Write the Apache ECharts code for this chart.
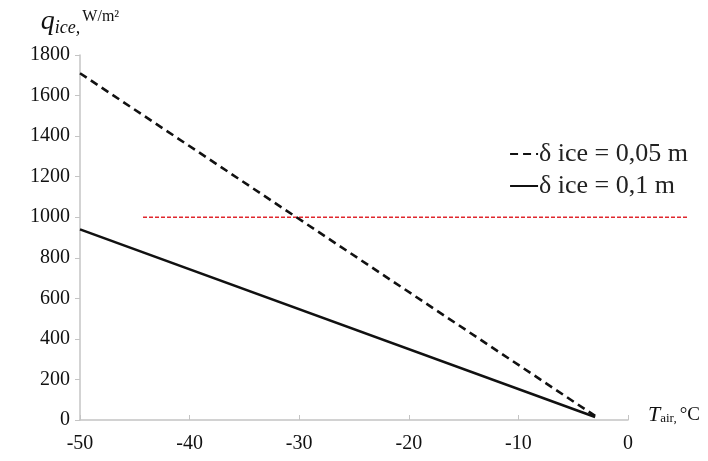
<!DOCTYPE html>
<html><head><meta charset="utf-8">
<script src="https://cdn.jsdelivr.net/npm/echarts@6/dist/echarts.min.js"></script>
<style>html,body{margin:0;padding:0;background:#fff}#c{width:708px;height:461px}</style>
</head><body><div id="c"></div>
<script>
var seriesNames = ['δ ice = 0,05 m', 'δ ice = 0,1 m'];
var thin05 = [[-50, 1710], [-3, 20]];
var thin10 = [[-50, 940], [-3, 15]];
var limitLine = [[-44.25, 1000], [5.5, 1000]];
var xTicks = [-50, -40, -30, -20, -10, 0];
var yTicks = [0, 200, 400, 600, 800, 1000, 1200, 1400, 1600, 1800];

var serif = '"Liberation Serif", "DejaVu Serif", serif';
var W = 708, L = 80, R = 80;
var plotW = W - L - R;
var extMax = 6;
var R2 = W - L - plotW * (extMax - (-50)) / 50;

var chart = echarts.init(document.getElementById('c'));
chart.setOption({
  animation: false,
  backgroundColor: '#fff',
  textStyle: {fontFamily: serif},
  grid: [
    {left: L, right: R, top: 55, bottom: 41},
    {left: L, right: R2, top: 55, bottom: 41}
  ],
  legend: {
    orient: 'vertical', right: 15, top: 136, itemWidth: 28, itemHeight: 12, itemGap: 6,
    data: seriesNames,
    itemStyle: {opacity: 0},
    textStyle: {fontFamily: serif, fontSize: 26, color: '#222', padding: [0, 0, 0, -4]}
  },
  xAxis: [{
    type: 'value', gridIndex: 0, min: -50, max: 0, interval: 10,
    name: '{t|T}{s|air,} {u|°C}', nameLocation: 'end', nameGap: 20,
    nameTextStyle: {
      verticalAlign: 'bottom', padding: [0, 0, -6, 0],
      rich: {
        t: {fontFamily: serif, fontStyle: 'italic', fontSize: 22, color: '#111'},
        s: {fontFamily: serif, fontSize: 13, color: '#111', padding: [8, 0, 0, 0]},
        u: {fontFamily: serif, fontSize: 19, color: '#111'}
      }
    },
    axisLine: {onZero: false, lineStyle: {color: '#c4c4c4', width: 1.5}},
    axisTick: {inside: true, length: 5, lineStyle: {color: '#c4c4c4'}},
    axisLabel: {fontFamily: serif, fontSize: 20, color: '#111', margin: 14,
      formatter: function (v) { return xTicks.indexOf(v) >= 0 ? String(v) : ''; }},
    splitLine: {show: false}
  }, {
    type: 'value', gridIndex: 1, min: -50, max: extMax, show: false
  }],
  yAxis: [{
    type: 'value', gridIndex: 0, min: 0, max: 1800, interval: 200,
    name: '{q|q}{s|ice,}{u|W/m²}', nameLocation: 'end', nameGap: 18,
    nameTextStyle: {
      padding: [0, 0, 0, 0],
      rich: {
        q: {fontFamily: serif, fontStyle: 'italic', fontSize: 28, color: '#111'},
        s: {fontFamily: serif, fontStyle: 'italic', fontSize: 18, color: '#111', padding: [12, 0, 0, 0]},
        u: {fontFamily: serif, fontSize: 16, color: '#111', padding: [0, 0, 10, 2]}
      }
    },
    axisLine: {show: true, onZero: false, lineStyle: {color: '#c4c4c4', width: 1.5}},
    axisTick: {show: true, length: 5, lineStyle: {color: '#c4c4c4'}},
    axisLabel: {fontFamily: serif, fontSize: 20, color: '#111', margin: 10,
      formatter: function (v) { return yTicks.indexOf(v) >= 0 ? String(v) : ''; }},
    splitLine: {show: false}
  }, {
    type: 'value', gridIndex: 1, min: 0, max: 1800, show: false
  }],
  series: [
    {name: 'limit', type: 'line', xAxisIndex: 1, yAxisIndex: 1, data: limitLine, symbol: 'none',
      lineStyle: {color: '#e0282e', width: 1.5, type: [4, 2]}, silent: true, z: 1},
    {name: seriesNames[0], type: 'line', data: thin05, symbol: 'none', z: 3,
      lineStyle: {color: '#111', width: 2.6, type: [8, 5]}, itemStyle: {color: '#111'}},
    {name: seriesNames[1], type: 'line', data: thin10, symbol: 'none', z: 3,
      lineStyle: {color: '#111', width: 2.6, type: 'solid'}, itemStyle: {color: '#111'}}
  ]
});
</script>
</body></html>
